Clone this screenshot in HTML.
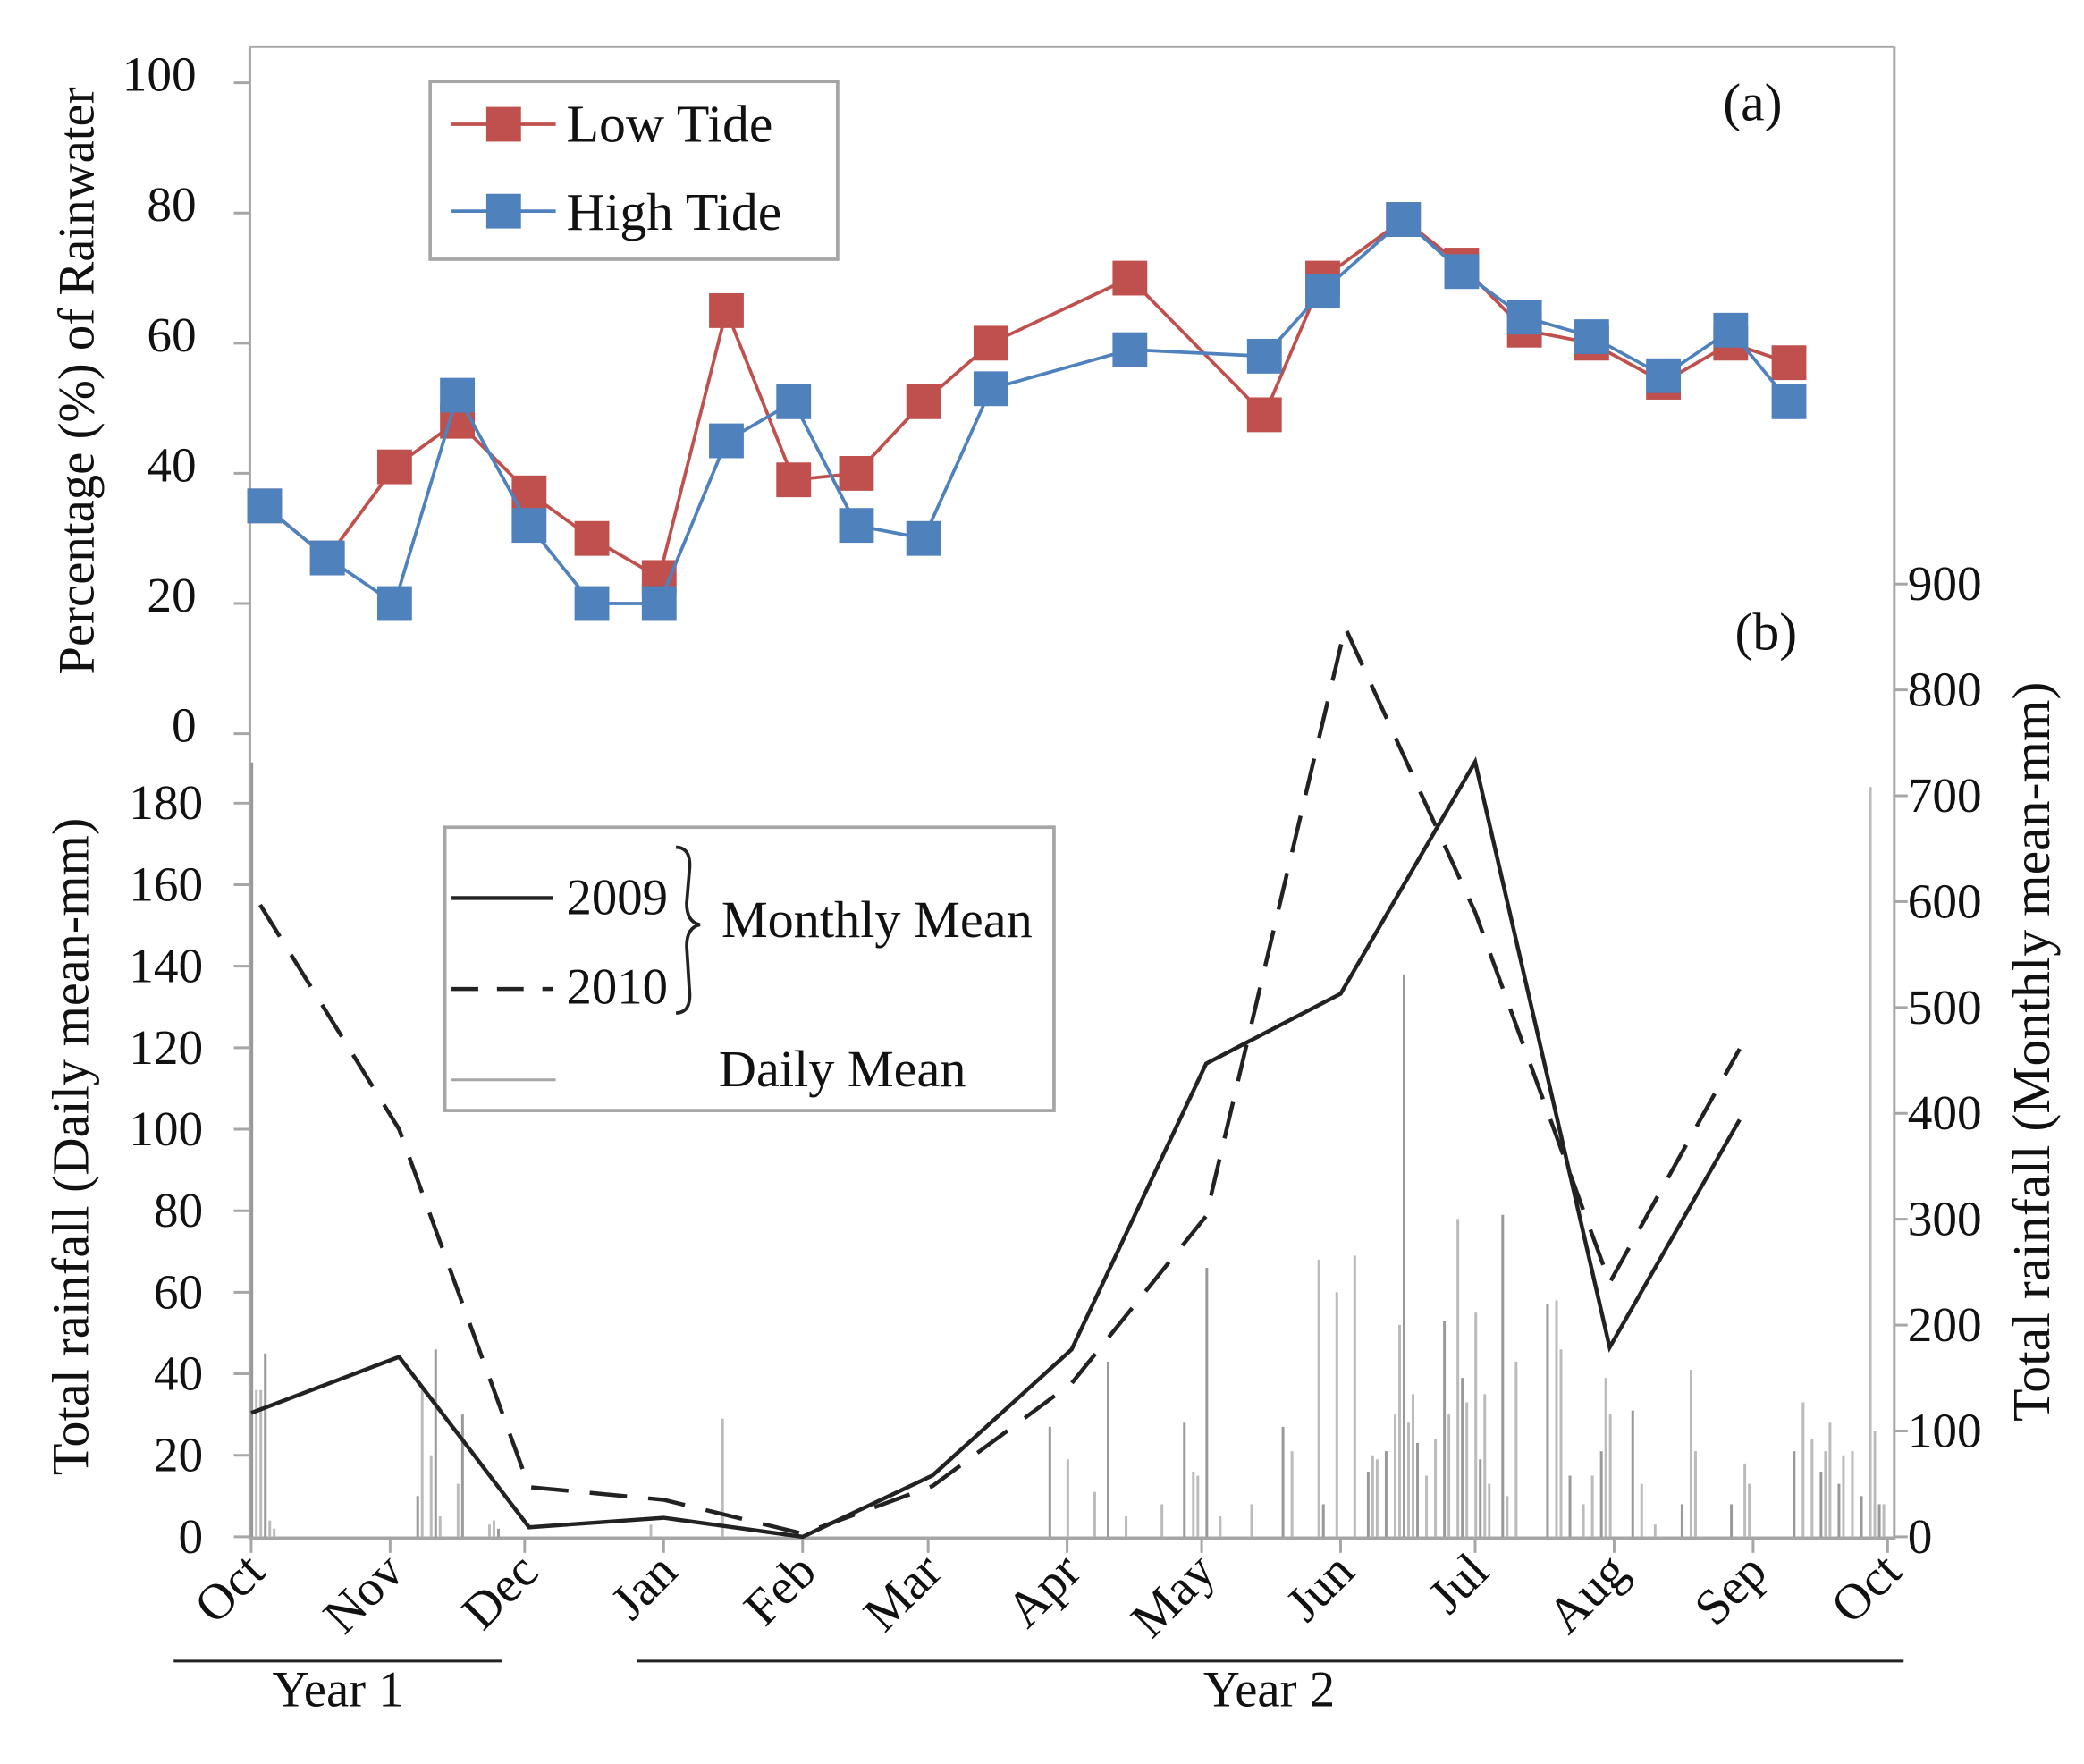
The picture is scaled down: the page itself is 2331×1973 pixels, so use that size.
<!DOCTYPE html>
<html><head><meta charset="utf-8"><style>
html,body{margin:0;padding:0;background:#fff}
svg{display:block}
text{font-family:"Liberation Serif",serif;fill:#111}
</style></head><body>
<svg id="chart" width="2331" height="1973" viewBox="0 0 1560 1320" preserveAspectRatio="none" xmlns="http://www.w3.org/2000/svg">
<g id="axes"></g>
<g id="bars"></g>
<g id="lines"></g>
<g id="labels"></g>
</svg>
<script>
// ---- data ----
const monthLabels = ["Oct","Nov","Dec","Jan","Feb","Mar","Apr","May","Jun","Jul","Aug","Sep","Oct"];
const monthDays = [0,31,61,92,123,151,182,212,243,273,304,335,365];
const pctTicks = [0,20,40,60,80,100];
const dailyTicks = [0,20,40,60,80,100,120,140,160,180];
const monthlyTicks = [0,100,200,300,400,500,600,700,800,900];
const tideDays = [3,17,32,46,62,76,91,106,121,135,150,165,196,226,239,257,270,284,299,315,330,343];
const lowTide = [35,27,41,48,37,30,24,65,39,40,51,60,70,49,70,79,72,62,60,54,60,57];
const highTide = [35,27,20,52,32,20,20,45,51,32,30,53,59,58,68,79,71,64,61,55,62,51];
const m2009Days = [0,33,62,92,123,152,183,213,243,273,303,332];
const m2009 = [117,170,9,18,0,58,177,447,513,732,179,394];
const m2010Days = [2,33,62,92,123,152,183,213,244,273,303,332];
const m2010 = [597,385,47,35,3,48,145,303,859,590,240,461];
const dailyDays = [0,1,2,3,4,5,37,38,40,41,42,46,47,53,54,55,89,105,178,182,188,191,195,203,208,210,211,213,216,223,230,232,238,239,242,246,249,250,251,253,255,256,257,258,259,260,262,264,266,267,269,270,271,273,274,275,276,279,280,282,289,291,292,294,297,299,301,302,303,308,310,313,319,321,322,330,333,334,344,346,348,350,351,352,354,355,357,359,361,362,363,364];
const dailyVals = [190,36,36,45,4,2,10,37,20,46,5,13,30,3,4,2,3,29,27,19,11,43,5,8,28,16,15,66,5,8,27,21,68,8,60,69,16,20,19,21,30,52,138,28,35,23,15,24,53,30,78,39,33,55,19,35,13,79,10,43,57,58,46,15,8,15,21,39,30,31,13,3,8,41,21,8,18,13,21,33,24,16,21,28,13,20,21,10,184,26,8,8];

// ---- scales ----
const NS="http://www.w3.org/2000/svg";
const X0=188, X1=1413;
const xS = d => X0 + (X1-X0)*d/365;
const yPct = v => 549 - 4.87*v;
const yDaily = v => 1150 - 3.05*v;
const yMon = v => 1150 - 0.7922*v;
function mk(tag, attrs, parent, txt){
  const e=document.createElementNS(NS,tag);
  for(const k in attrs) e.setAttribute(k,attrs[k]);
  if(txt!==undefined) e.textContent=txt;
  parent.appendChild(e); return e;
}
const ax=document.getElementById('axes'), bg=document.getElementById('bars'), lg=document.getElementById('lines');
const gray="#a6a6a6";

let e;
e=mk('line',{x1:187,y1:35,x2:1418,y2:35,stroke:gray,'stroke-width':2},ax);
 
e=mk('line',{x1:187,y1:35,x2:187,y2:1152,stroke:gray,'stroke-width':2},ax);
 
e=mk('line',{x1:1418,y1:35,x2:1418,y2:1152,stroke:gray,'stroke-width':2},ax);
 
e=mk('line',{x1:187,y1:1151,x2:1418,y2:1151,stroke:gray,'stroke-width':2.5},ax);
 

pctTicks.forEach(v=>{
  const y=yPct(v);
  e=mk('line',{x1:175,y1:y,x2:187,y2:y,stroke:gray,'stroke-width':2},ax);
   
  e=mk('text',{x:147,y:y+6,'font-size':37,'text-anchor':'end'},ax,v);
   
});
dailyTicks.forEach(v=>{
  const y=yDaily(v);
  e=mk('line',{x1:175,y1:y,x2:187,y2:y,stroke:gray,'stroke-width':2},ax);
   
  e=mk('text',{x:152,y:y+12,'font-size':37,'text-anchor':'end'},ax,v);
   
});
monthlyTicks.forEach(v=>{
  const y=yMon(v);
  e=mk('line',{x1:1418,y1:y,x2:1428,y2:y,stroke:gray,'stroke-width':2},ax);
   
  e=mk('text',{x:1428,y:y+12,'font-size':37,'text-anchor':'start'},ax,v);
   
});
monthDays.forEach((d,i)=>{
  const x=xS(d);
  e=mk('line',{x1:x,y1:1151,x2:x,y2:1162,stroke:gray,'stroke-width':2},ax);
   
  e=mk('text',{x:x+12,y:1178,'font-size':38,'text-anchor':'end',transform:`rotate(-45 ${x+12} 1178)`},ax,monthLabels[i]);
   
});

dailyDays.forEach((d,i)=>{
  const x=xS(d)+0.5;
  e=mk('line',{x1:x,y1:1150,x2:x,y2:yDaily(dailyVals[i]),stroke:(i%3==0?'#999':'#bbb'),'stroke-width':2},bg);
   
});

function poly(days, vals, ys, attrs, name){
  const pts=days.map((d,i)=>xS(d)+','+ys(vals[i])).join(' ');
  const p=mk('polyline',Object.assign({points:pts,fill:'none'},attrs),lg);
   
}
poly(m2009Days,m2009,yMon,{stroke:'#222','stroke-width':3},'line-2009');
poly(m2010Days,m2010,yMon,{stroke:'#222','stroke-width':3,'stroke-dasharray':'28 16'},'line-2010');
poly(tideDays,lowTide,yPct,{stroke:'#c0504d','stroke-width':2.5},'low-tide-line');
tideDays.forEach((d,i)=>{
  e=mk('rect',{x:xS(d)-13,y:yPct(lowTide[i])-13,width:26,height:26,fill:'#c0504d'},lg);
   
});
poly(tideDays,highTide,yPct,{stroke:'#4f81bd','stroke-width':2.5},'high-tide-line');
tideDays.forEach((d,i)=>{
  e=mk('rect',{x:xS(d)-13,y:yPct(highTide[i])-13,width:26,height:26,fill:'#4f81bd'},lg);
   
});
</script>
<script>
(function(){
const NS="http://www.w3.org/2000/svg", lb=document.getElementById('labels');
function mk(tag, attrs, txt){const e=document.createElementNS(NS,tag);for(const k in attrs)e.setAttribute(k,attrs[k]);if(txt!==undefined)e.textContent=txt;lb.appendChild(e);return e;}
let e;
e=mk('text',{x:1312,y:90,'font-size':40,'text-anchor':'middle'},'(a)');
 
e=mk('text',{x:1322,y:486,'font-size':40,'text-anchor':'middle'},'(b)');
 
e=mk('text',{x:0,y:0,'font-size':38,'text-anchor':'middle',transform:'translate(70 285) rotate(-90)'},'Percentage (%) of Rainwater');
 
e=mk('text',{x:0,y:0,'font-size':39,'text-anchor':'middle','xml:space':'preserve',transform:'translate(66 858) rotate(-90)'},'Total rainfall  (Daily mean-mm)');
 
e=mk('text',{x:0,y:0,'font-size':40,'text-anchor':'middle','xml:space':'preserve',transform:'translate(1534 787) rotate(-90)'},'Total rainfall  (Monthly mean-mm)');
 
e=mk('line',{x1:130,y1:1243,x2:376,y2:1243,stroke:'#222','stroke-width':2});
 
e=mk('line',{x1:477,y1:1243,x2:1425,y2:1243,stroke:'#222','stroke-width':2});
 
e=mk('text',{x:253,y:1277,'font-size':38,'text-anchor':'middle'},'Year 1');
 
e=mk('text',{x:950,y:1277,'font-size':38,'text-anchor':'middle'},'Year 2');
 
e=mk('rect',{x:322,y:61,width:305,height:133,fill:'#fff',stroke:'#a6a6a6','stroke-width':2.5});
 
e=mk('line',{x1:338,y1:93,x2:416,y2:93,stroke:'#c0504d','stroke-width':2.5});
 
e=mk('rect',{x:364,y:80,width:26,height:26,fill:'#c0504d'});
 
e=mk('text',{x:424,y:106,'font-size':40},'Low Tide');
 
e=mk('line',{x1:338,y1:158,x2:416,y2:158,stroke:'#4f81bd','stroke-width':2.5});
 
e=mk('rect',{x:364,y:145,width:26,height:26,fill:'#4f81bd'});
 
e=mk('text',{x:424,y:172,'font-size':40},'High Tide');
 
e=mk('rect',{x:333,y:619,width:456,height:212,fill:'#fff',stroke:'#a6a6a6','stroke-width':2.5});
 
e=mk('line',{x1:338,y1:672,x2:414,y2:672,stroke:'#222','stroke-width':3});
 
e=mk('text',{x:424,y:684,'font-size':38},'2009');
 
e=mk('line',{x1:338,y1:740,x2:414,y2:740,stroke:'#222','stroke-width':3,'stroke-dasharray':'20 14'});
 
e=mk('text',{x:424,y:751,'font-size':38},'2010');
 
e=mk('path',{d:'M506 634 Q518 634 516 652 L514 676 Q514 690 524 692 Q514 694 514 708 L516 740 Q518 758 506 758',fill:'none',stroke:'#222','stroke-width':2.5});
 
e=mk('text',{x:540,y:701,'font-size':39},'Monthly Mean');
 
e=mk('line',{x1:338,y1:808,x2:416,y2:808,stroke:'#a6a6a6','stroke-width':2});
 
e=mk('text',{x:538,y:813,'font-size':39},'Daily Mean');
 
})();
</script>
</body></html>
